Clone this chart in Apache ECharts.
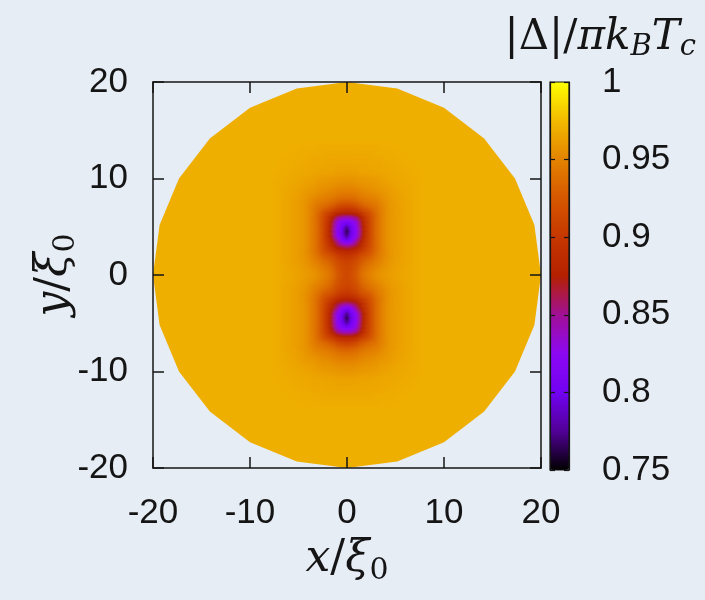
<!DOCTYPE html>
<html>
<head>
<meta charset="utf-8">
<script src="https://cdn.jsdelivr.net/npm/echarts/dist/echarts.min.js"></script>
<style>
  html, body { margin: 0; background: #e7edf5; }
  #chart { width: 705px; height: 600px; }
</style>
</head>
<body>
<div id="chart"></div>
<script>
// disk boundary (24-gon, radius 20 xi0)
const diskX = [20, 19.32, 17.32, 14.14, 10, 5.18, 0, -5.18, -10, -14.14, -17.32, -19.32,
  -20, -19.32, -17.32, -14.14, -10, -5.18, 0, 5.18, 10, 14.14, 17.32, 19.32]
const diskY = [0, 5.18, 10, 14.14, 17.32, 19.32, 20, 19.32, 17.32, 14.14, 10, 5.18,
  0, -5.18, -10, -14.14, -17.32, -19.32, -20, -19.32, -17.32, -14.14, -10, -5.18]
// |Delta| on the disk away from the vortex pair
const diskValue = 0.97

// sample points of the central region (x/xi0, y/xi0)
const fieldX = [-8, -7.5, -7, -6.5, -6, -5.5, -5, -4.5, -4, -3.5, -3, -2.5, -2, -1.5, -1, -0.5, 0,
  0.5, 1, 1.5, 2, 2.5, 3, 3.5, 4, 4.5, 5, 5.5, 6, 6.5, 7, 7.5, 8]
const fieldY = [14, 13.5, 13, 12.5, 12, 11.5, 11, 10.5, 10, 9.5, 9, 8.5, 8, 7.5, 7, 6.5, 6, 5.5, 5, 4.5, 4, 3.5, 3, 2.5, 2, 1.5, 1, 0.5, 0,
  -0.5, -1, -1.5, -2, -2.5, -3, -3.5, -4, -4.5, -5, -5.5, -6, -6.5, -7, -7.5, -8, -8.5, -9, -9.5, -10, -10.5, -11, -11.5, -12, -12.5, -13, -13.5, -14]
// |Delta|/(pi kB Tc) x 1000, one row per fieldY entry
const fieldRows = [
  [970,970,970,970,970,970,970,970,970,970,970,970,970,970,970,970,970,970,970,970,970,970,970,970,970,970,970,970,970,970,970,970,970],
  [970,970,970,970,970,970,970,969,969,969,969,969,969,969,969,969,969,969,969,969,969,969,969,969,969,969,970,970,970,970,970,970,970],
  [970,970,970,970,970,969,969,969,969,969,968,968,968,968,968,968,968,968,968,968,968,968,968,969,969,969,969,969,970,970,970,970,970],
  [970,970,970,970,969,969,969,968,968,968,968,967,967,967,967,967,967,967,967,967,967,967,968,968,968,968,969,969,969,970,970,970,970],
  [970,970,970,969,969,969,968,968,968,967,967,967,966,966,966,966,966,966,966,966,966,967,967,967,968,968,968,969,969,969,970,970,970],
  [970,970,969,969,969,968,968,967,967,966,966,966,965,965,965,965,965,965,965,965,965,966,966,966,967,967,968,968,969,969,969,970,970],
  [970,970,969,969,968,968,967,967,967,966,966,965,965,965,964,964,964,964,964,965,965,965,966,966,967,967,967,968,968,969,969,970,970],
  [970,969,969,968,968,967,967,966,966,965,964,964,963,963,962,962,962,962,962,963,963,964,964,965,966,966,967,967,968,968,969,969,970],
  [970,969,969,968,967,967,966,965,964,963,962,961,960,959,959,958,958,958,959,959,960,961,962,963,964,965,966,967,967,968,969,969,970],
  [970,969,968,968,967,966,965,964,963,962,960,959,958,957,956,955,955,955,956,957,958,959,960,962,963,964,965,966,967,968,968,969,970],
  [970,969,968,967,966,965,964,962,961,960,958,956,955,953,952,951,951,951,952,953,955,956,958,960,961,962,964,965,966,967,968,969,970],
  [970,969,968,967,966,964,963,961,959,957,955,953,951,949,947,945,945,945,947,949,951,953,955,957,959,961,963,964,966,967,968,969,970],
  [970,969,968,967,965,964,962,960,957,954,951,949,946,943,940,938,937,938,940,943,946,949,951,954,957,960,962,964,965,967,968,969,970],
  [970,969,968,966,965,963,961,959,955,951,946,943,939,935,930,926,925,926,930,935,939,943,946,951,955,959,961,963,965,966,968,969,970],
  [970,969,968,966,965,963,961,959,954,948,940,936,929,921,913,907,905,907,913,921,929,936,940,948,954,959,961,963,965,966,968,969,970],
  [970,969,968,966,965,963,961,959,954,947,937,925,912,900,892,887,885,887,892,900,912,925,937,947,954,959,961,963,965,966,968,969,970],
  [970,969,968,966,965,963,961,959,954,946,935,920,900,878,858,848,845,848,858,878,900,920,935,946,954,959,961,963,965,966,968,969,970],
  [970,969,968,966,965,963,961,959,954,946,935,919,896,866,835,818,812,818,835,866,896,919,935,946,954,959,961,963,965,966,968,969,970],
  [970,969,968,966,965,963,961,959,954,946,935,918,894,862,828,805,778,805,828,862,894,918,935,946,954,959,961,963,965,966,968,969,970],
  [970,969,968,966,965,963,961,959,954,946,935,918,893,860,825,800,760,800,825,860,893,918,935,946,954,959,961,963,965,966,968,969,970],
  [970,969,968,966,965,963,961,959,954,946,935,918,894,862,828,805,775,805,828,862,894,918,935,946,954,959,961,963,965,966,968,969,970],
  [970,969,968,966,965,963,961,959,954,946,935,919,898,874,850,820,808,820,850,874,898,919,935,946,954,959,961,963,965,966,968,969,970],
  [970,969,968,966,965,963,961,959,954,946,935,921,902,882,866,856,850,856,866,882,902,921,935,946,954,959,961,963,965,966,968,969,970],
  [970,969,968,966,965,963,961,958,953,946,936,924,910,898,889,883,880,883,889,898,910,924,936,946,953,958,961,963,965,966,968,969,970],
  [970,969,968,966,965,963,961,958,954,948,940,930,922,914,906,900,897,900,906,914,922,930,940,948,954,958,961,963,965,966,968,969,970],
  [970,969,968,966,965,963,961,959,955,950,945,938,931,923,915,909,906,909,915,923,931,938,945,950,955,959,961,963,965,966,968,969,970],
  [970,969,968,967,965,964,962,960,957,953,949,944,938,930,921,914,911,914,921,930,938,944,949,953,957,960,962,964,965,967,968,969,970],
  [970,969,968,967,966,964,963,961,959,956,953,948,942,934,925,916,913,916,925,934,942,948,953,956,959,961,963,964,966,967,968,969,970],
  [970,969,968,967,966,965,963,962,960,958,955,951,945,937,927,918,914,918,927,937,945,951,955,958,960,962,963,965,966,967,968,969,970],
  [970,969,968,967,966,964,963,961,959,956,953,948,942,934,925,916,913,916,925,934,942,948,953,956,959,961,963,964,966,967,968,969,970],
  [970,969,968,967,965,964,962,960,957,953,949,944,938,930,921,914,911,914,921,930,938,944,949,953,957,960,962,964,965,967,968,969,970],
  [970,969,968,966,965,963,961,959,955,950,945,938,931,923,915,909,906,909,915,923,931,938,945,950,955,959,961,963,965,966,968,969,970],
  [970,969,968,966,965,963,961,958,954,948,940,930,922,914,906,900,897,900,906,914,922,930,940,948,954,958,961,963,965,966,968,969,970],
  [970,969,968,966,965,963,961,958,953,946,936,924,910,898,889,883,880,883,889,898,910,924,936,946,953,958,961,963,965,966,968,969,970],
  [970,969,968,966,965,963,961,959,954,946,935,921,902,882,866,856,850,856,866,882,902,921,935,946,954,959,961,963,965,966,968,969,970],
  [970,969,968,966,965,963,961,959,954,946,935,919,898,874,850,820,808,820,850,874,898,919,935,946,954,959,961,963,965,966,968,969,970],
  [970,969,968,966,965,963,961,959,954,946,935,918,894,862,828,805,775,805,828,862,894,918,935,946,954,959,961,963,965,966,968,969,970],
  [970,969,968,966,965,963,961,959,954,946,935,918,893,860,825,800,760,800,825,860,893,918,935,946,954,959,961,963,965,966,968,969,970],
  [970,969,968,966,965,963,961,959,954,946,935,918,894,862,828,805,778,805,828,862,894,918,935,946,954,959,961,963,965,966,968,969,970],
  [970,969,968,966,965,963,961,959,954,946,935,919,896,866,835,818,812,818,835,866,896,919,935,946,954,959,961,963,965,966,968,969,970],
  [970,969,968,966,965,963,961,959,954,946,935,920,900,878,858,848,845,848,858,878,900,920,935,946,954,959,961,963,965,966,968,969,970],
  [970,969,968,966,965,963,961,959,954,947,937,925,912,900,892,887,885,887,892,900,912,925,937,947,954,959,961,963,965,966,968,969,970],
  [970,969,968,966,965,963,961,959,954,948,940,936,929,921,913,907,905,907,913,921,929,936,940,948,954,959,961,963,965,966,968,969,970],
  [970,969,968,966,965,963,961,959,955,951,946,943,939,935,930,926,925,926,930,935,939,943,946,951,955,959,961,963,965,966,968,969,970],
  [970,969,968,967,965,964,962,960,957,954,951,949,946,943,940,938,937,938,940,943,946,949,951,954,957,960,962,964,965,967,968,969,970],
  [970,969,968,967,966,964,963,961,959,957,955,953,951,949,947,945,945,945,947,949,951,953,955,957,959,961,963,964,966,967,968,969,970],
  [970,969,968,967,966,965,964,962,961,960,958,956,955,953,952,951,951,951,952,953,955,956,958,960,961,962,964,965,966,967,968,969,970],
  [970,969,968,968,967,966,965,964,963,962,960,959,958,957,956,955,955,955,956,957,958,959,960,962,963,964,965,966,967,968,968,969,970],
  [970,969,969,968,967,967,966,965,964,963,962,961,960,959,959,958,958,958,959,959,960,961,962,963,964,965,966,967,967,968,969,969,970],
  [970,969,969,968,968,967,967,966,966,965,964,964,963,963,962,962,962,962,962,963,963,964,964,965,966,966,967,967,968,968,969,969,970],
  [970,970,969,969,968,968,967,967,967,966,966,965,965,965,964,964,964,964,964,965,965,965,966,966,967,967,967,968,968,969,969,970,970],
  [970,970,969,969,969,968,968,967,967,966,966,966,965,965,965,965,965,965,965,965,965,966,966,966,967,967,968,968,969,969,969,970,970],
  [970,970,970,969,969,969,968,968,968,967,967,967,966,966,966,966,966,966,966,966,966,967,967,967,968,968,968,969,969,969,970,970,970],
  [970,970,970,970,969,969,969,968,968,968,968,967,967,967,967,967,967,967,967,967,967,967,968,968,968,968,969,969,969,970,970,970,970],
  [970,970,970,970,970,969,969,969,969,969,968,968,968,968,968,968,968,968,968,968,968,968,968,969,969,969,969,969,970,970,970,970,970],
  [970,970,970,970,970,970,970,969,969,969,969,969,969,969,969,969,969,969,969,969,969,969,969,969,969,969,970,970,970,970,970,970,970],
  [970,970,970,970,970,970,970,970,970,970,970,970,970,970,970,970,970,970,970,970,970,970,970,970,970,970,970,970,970,970,970,970,970]
]

const xTicks = { min: -20, max: 20, interval: 10 }
const cbTicks = { min: 0.75, max: 1, interval: 0.05 }

// gnuplot default pm3d palette (rgbformulae 7,5,15)
const palette = ['#000000', '#510096', '#7202f3', '#8c07f3', '#a11096', '#b42000',
  '#c63700', '#d55700', '#e48300', '#f2ba00', '#ffff00']

const nx = fieldX.length
const ny = fieldY.length
const cells = []
fieldRows.forEach((row, j) => {
  row.forEach((v, i) => cells.push([fieldX[i], fieldY[j], v / 1000]))
})

const toColor = v => echarts.color.lerp((v - cbTicks.min) / (cbTicks.max - cbTicks.min), palette)
const STRIPS = 5

// shade the patch between four neighbouring samples, like pm3d does
function renderPatch (params, api) {
  const i = params.dataIndex % nx
  const j = Math.floor(params.dataIndex / nx)
  if (i === nx - 1 || j === ny - 1) return null
  const p0 = api.coord([fieldX[i], fieldY[j]])
  const p1 = api.coord([fieldX[i + 1], fieldY[j + 1]])
  const tl = fieldRows[j][i] / 1000
  const tr = fieldRows[j][i + 1] / 1000
  const bl = fieldRows[j + 1][i] / 1000
  const br = fieldRows[j + 1][i + 1] / 1000
  const w = (p1[0] - p0[0]) / STRIPS
  const children = []
  for (let k = 0; k < STRIPS; k++) {
    const s = (k + 0.5) / STRIPS
    const top = tl + (tr - tl) * s
    const bot = bl + (br - bl) * s
    const stops = [0, 0.25, 0.5, 0.75, 1].map(o => ({ offset: o, color: toColor(top + (bot - top) * o) }))
    children.push({
      type: 'rect',
      shape: { x: p0[0] + k * w - 0.3, y: p0[1] - 0.3, width: w + 0.6, height: p1[1] - p0[1] + 0.6 },
      style: { fill: new echarts.graphic.LinearGradient(0, 0, 0, 1, stops) }
    })
  }
  return { type: 'group', children }
}

const ink = '#151515'
const tickFont = { fontFamily: 'Liberation Sans', fontSize: 35, color: ink }
const mathRich = {
  i: { fontFamily: 'DejaVu Serif', fontStyle: 'italic', fontWeight: 'normal', fontSize: 44, color: ink, lineHeight: 52 },
  n: { fontFamily: 'DejaVu Serif', fontWeight: 'normal', fontSize: 44, color: ink, lineHeight: 52 },
  s: { fontFamily: 'DejaVu Serif', fontWeight: 'normal', fontSize: 30, color: ink, lineHeight: 30, verticalAlign: 'bottom' }
}
const frameLine = { show: true, onZero: false, lineStyle: { color: ink, width: 1.5 } }
const frameTick = { show: true, inside: true, length: 11, lineStyle: { color: ink, width: 1.5 } }
const cbLine = { show: true, onZero: false, lineStyle: { color: ink, width: 1.2 } }
const cbTick = { inside: true, length: 5, lineStyle: { color: ink, width: 1.2 } }

const chart = echarts.init(document.getElementById('chart'))
chart.setOption({
  backgroundColor: '#e7edf5',
  animation: false,
  title: {
    text: '{n||Δ|/}{i|πk}{s|B}{i|T}{s|c}',
    right: 4,
    top: 9,
    textStyle: {
      fontWeight: 'normal',
      rich: {
        n: { fontFamily: 'DejaVu Serif', fontWeight: 'normal', fontSize: 42, color: ink, lineHeight: 48 },
        i: { fontFamily: 'DejaVu Serif', fontStyle: 'italic', fontWeight: 'normal', fontSize: 42, color: ink, lineHeight: 48 },
        s: { fontFamily: 'DejaVu Serif', fontStyle: 'italic', fontWeight: 'normal', fontSize: 29, color: ink, lineHeight: 29, verticalAlign: 'bottom' }
      }
    }
  },
  grid: [
    { left: 153, top: 82, width: 388, height: 386 },
    { left: 550, top: 82, width: 19, height: 388, show: true, borderColor: ink, borderWidth: 1.2, backgroundColor: 'transparent', z: 10 }
  ],
  visualMap: {
    type: 'continuous',
    min: cbTicks.min,
    max: cbTicks.max,
    dimension: 2,
    seriesIndex: [0],
    calculable: false,
    hoverLink: false,
    text: null,
    left: 550,
    top: 82,
    padding: 0,
    itemWidth: 19,
    itemHeight: 388,
    z: 2,
    inRange: { color: palette }
  },
  xAxis: [
    {
      gridIndex: 0, type: 'value', position: 'bottom', ...xTicks, z: 5,
      axisLine: frameLine, axisTick: frameTick, splitLine: { show: false },
      axisLabel: { ...tickFont, margin: 28 },
      name: '{i|x}{n|/}{i|ξ}{s|0}', nameLocation: 'middle', nameGap: 66, nameMoveOverlap: false,
      nameTextStyle: { rich: mathRich }
    },
    {
      gridIndex: 0, type: 'value', position: 'top', ...xTicks, z: 5,
      axisLine: frameLine, axisTick: frameTick, splitLine: { show: false },
      axisLabel: { show: false }
    },
    { gridIndex: 1, type: 'value', show: false, min: 0, max: 1 }
  ],
  yAxis: [
    {
      gridIndex: 0, type: 'value', position: 'left', ...xTicks, z: 5,
      axisLine: frameLine, axisTick: frameTick, splitLine: { show: false },
      axisLabel: { ...tickFont, margin: 25 },
      name: '{i|y}{n|/}{i|ξ}{s|0}', nameLocation: 'middle', nameRotate: 90, nameGap: 72, nameMoveOverlap: false,
      nameTextStyle: { rich: mathRich }
    },
    {
      gridIndex: 0, type: 'value', position: 'right', ...xTicks, z: 5,
      axisLine: frameLine, axisTick: frameTick, splitLine: { show: false },
      axisLabel: { show: false }
    },
    {
      gridIndex: 1, type: 'value', position: 'right', ...cbTicks, z: 10,
      axisLine: cbLine, axisTick: cbTick, splitLine: { show: false },
      axisLabel: { ...tickFont, margin: 33 }
    },
    {
      gridIndex: 1, type: 'value', position: 'left', ...cbTicks, z: 10,
      axisLine: cbLine, axisTick: cbTick, splitLine: { show: false },
      axisLabel: { show: false }
    }
  ],
  series: [
    {
      type: 'custom',
      xAxisIndex: 0,
      yAxisIndex: 0,
      silent: true,
      encode: { x: 0, y: 1 },
      data: diskX.map((x, i) => [x, diskY[i], diskValue]),
      renderItem (params, api) {
        if (params.dataIndex !== 0) return null
        const points = diskX.map((x, i) => api.coord([x, diskY[i]]))
        return { type: 'polygon', shape: { points }, style: { fill: api.visual('color') } }
      }
    },
    {
      type: 'custom',
      xAxisIndex: 0,
      yAxisIndex: 0,
      silent: true,
      encode: { x: 0, y: 1 },
      data: cells,
      renderItem: renderPatch
    }
  ]
})
</script>
</body>
</html>
